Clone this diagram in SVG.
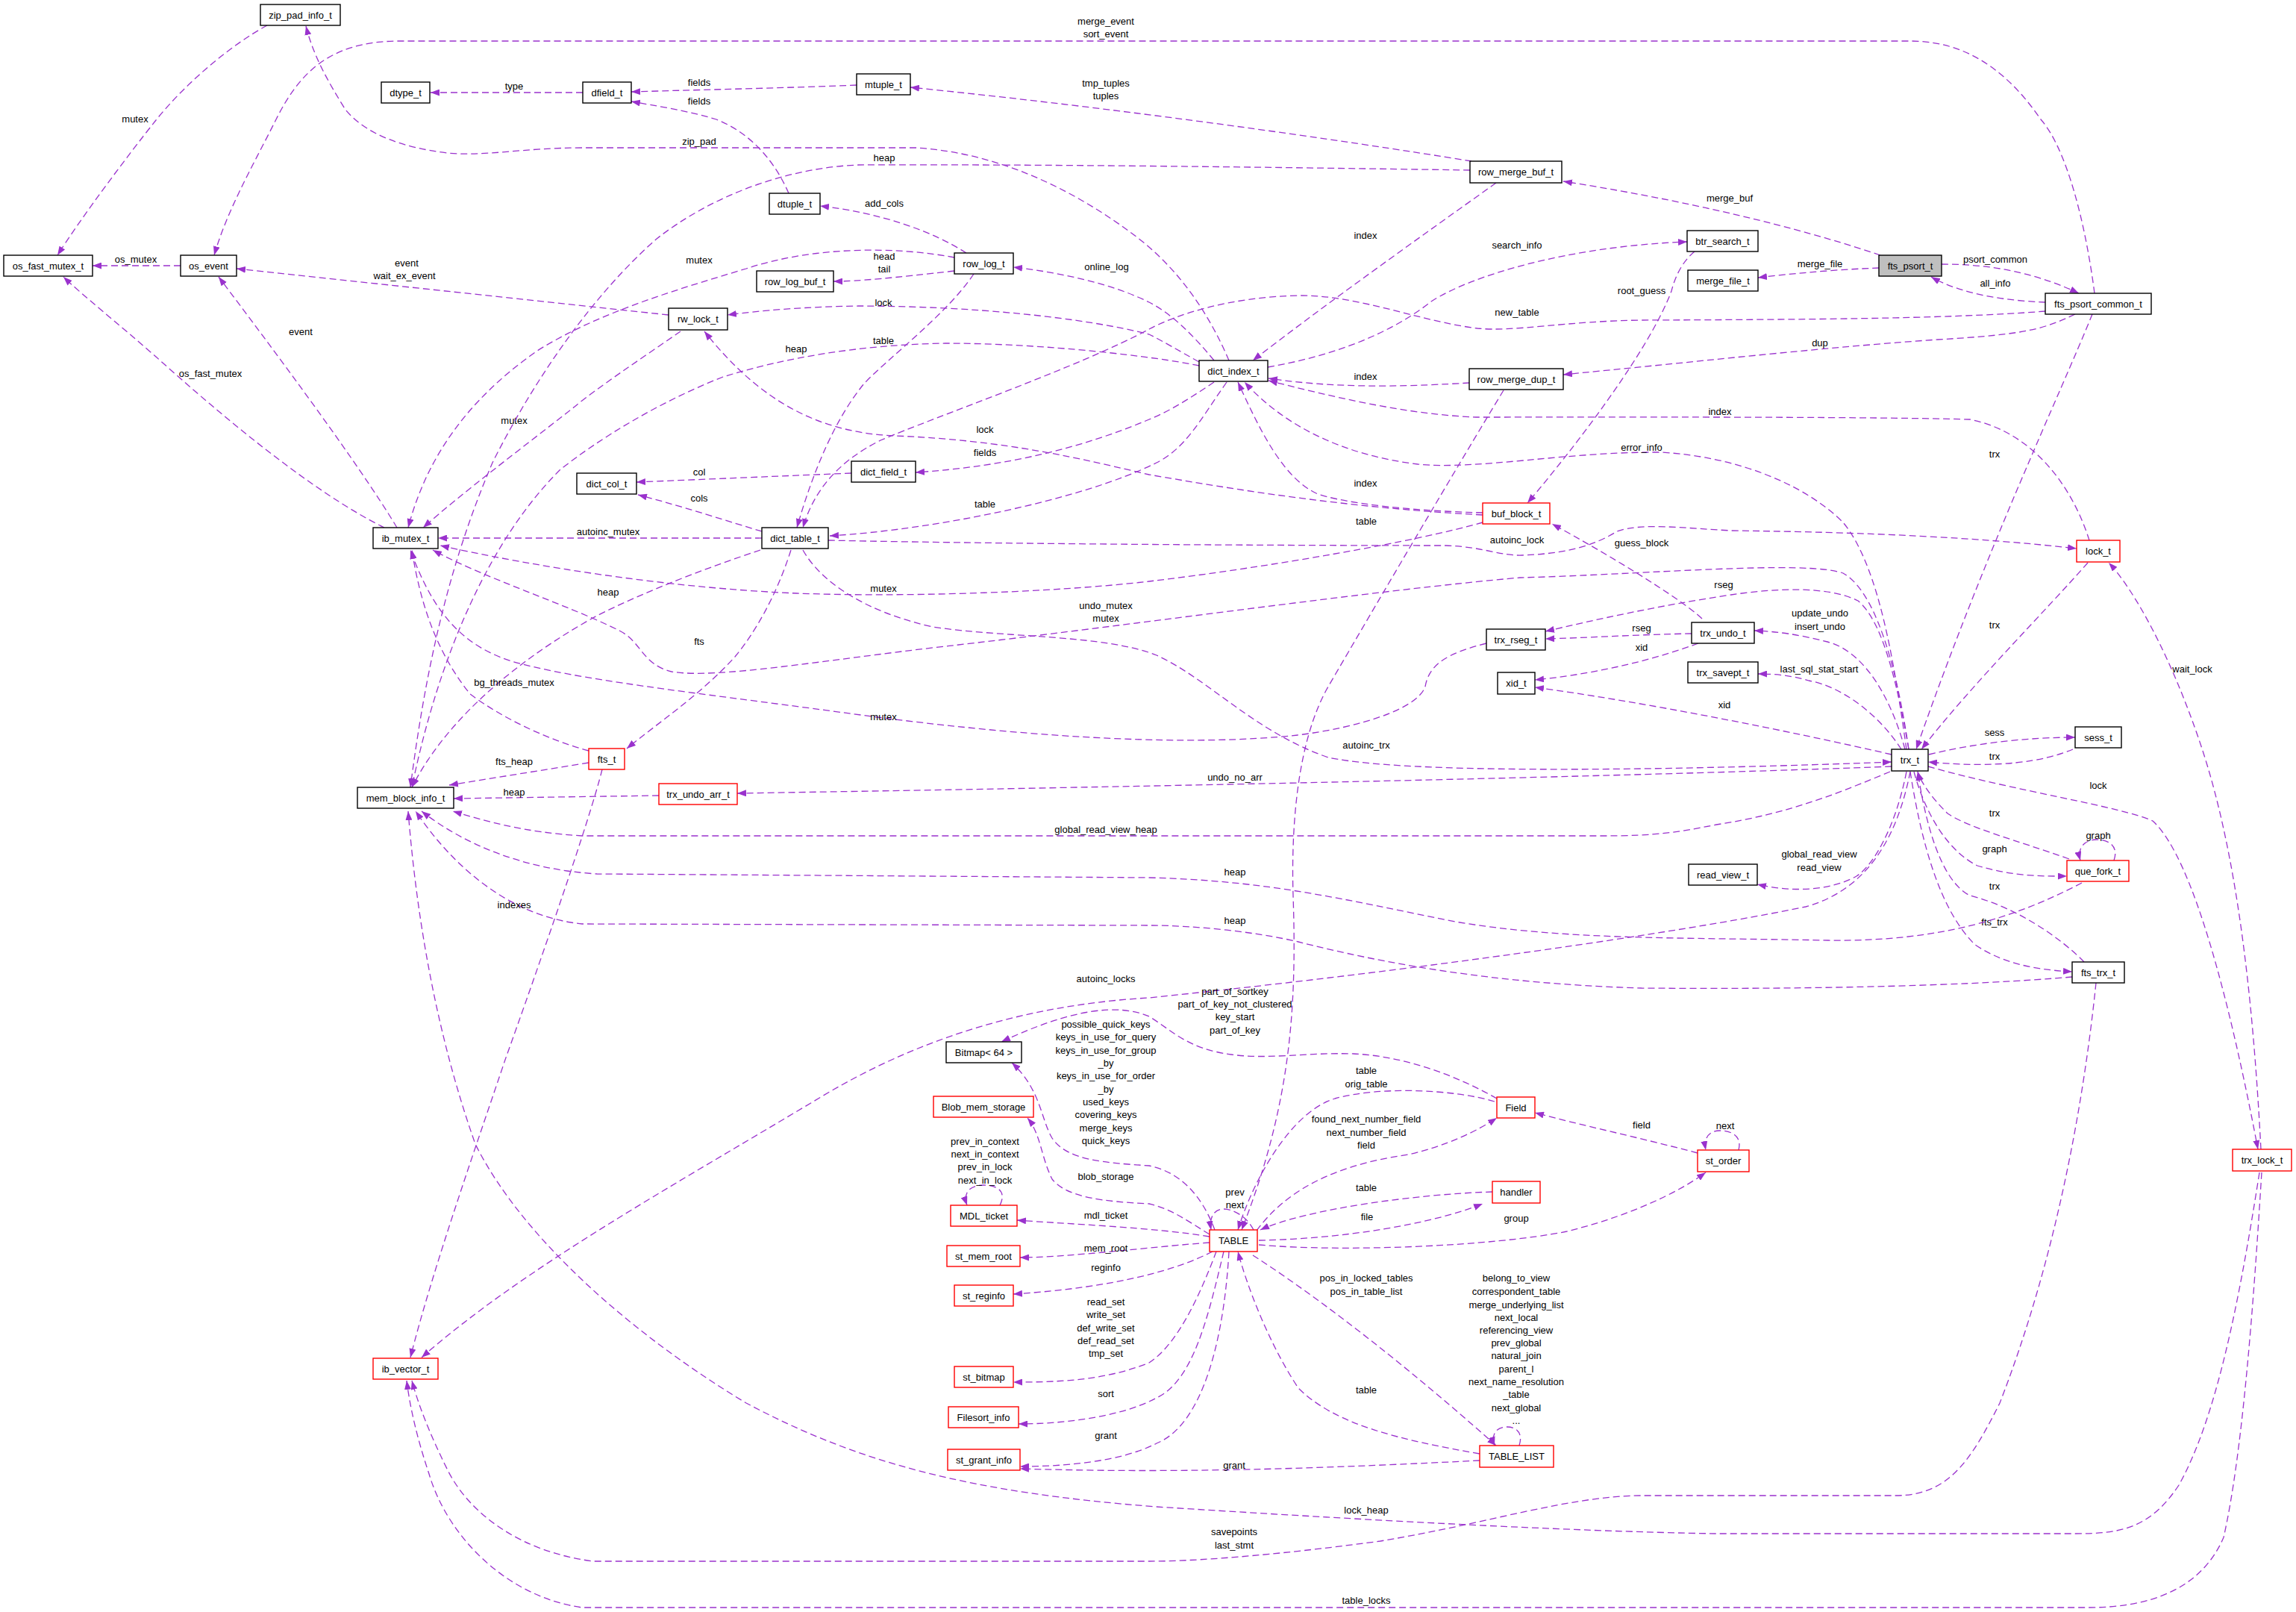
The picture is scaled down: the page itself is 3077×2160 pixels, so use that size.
<svg xmlns="http://www.w3.org/2000/svg" width="3077" height="2160" viewBox="0 0 3077 2160">
<style>
text{font-family:"Liberation Sans",Arial,sans-serif;font-size:13px;fill:#000;text-anchor:middle}
.n rect{fill:#fff;stroke:#000;stroke-width:1.4}
.n.t rect{stroke:#f00}
.n.r rect{fill:#bfbfbf}
.e path{fill:none;stroke:#9a32cd;stroke-width:1.3;stroke-dasharray:9,5;marker-end:url(#a)}
</style>
<defs>
<marker id="a" viewBox="0 0 12 9" refX="12" refY="4.5" markerWidth="12" markerHeight="9" markerUnits="userSpaceOnUse" orient="auto"><path d="M0,0 L12,4.5 L0,9 z" fill="#9a32cd"/></marker>
</defs>
<rect width="3077" height="2160" fill="#fff"/>
<g id="edges" class="e">
<path d="M2520,342 C2440,315 2300,275 2095,243"/><text x="2318" y="270">merge_buf</text>
<path d="M2518,359 Q2440,362 2356,372"/><text x="2439" y="358">merge_file</text>
<path d="M2602,354 C2660,354 2720,362 2786,393"/><text x="2674" y="352">psort_common</text>
<path d="M2741,405 C2690,403 2630,395 2588,371"/><text x="2674" y="384">all_info</text>
<path d="M2807,393 C2795,300 2770,200 2735,160 C2680,80 2620,55 2560,55 L535,55 C440,55 400,100 370,160 C340,220 305,280 287,342"/><text x="1482" y="33">merge_event</text><text x="1482" y="50">sort_event</text>
<path d="M1972,216 C1800,188 1500,145 1220,117"/><text x="1482" y="116">tmp_tuples</text><text x="1482" y="133">tuples</text>
<path d="M1148,114 C1050,118 950,120 846,123"/><text x="937" y="115">fields</text>
<path d="M1057,259 C1040,220 1010,180 960,160 C920,148 880,142 846,136"/><text x="937" y="140">fields</text>
<path d="M781,124 L577,124"/><text x="689" y="120">type</text>
<path d="M1647,483 C1620,420 1580,360 1520,315 C1440,255 1340,205 1228,198 L780,198 C700,198 650,210 600,205 C540,198 490,180 463,147 C440,110 420,75 410,35"/><text x="937" y="194">zip_pad</text>
<path d="M358,34 C310,60 250,110 209,161 C170,210 110,290 77,342"/><text x="181" y="164">mutex</text>
<path d="M242,356 L124,356"/><text x="182" y="352">os_mutex</text>
<path d="M515,707 C420,660 300,560 209,478 C160,435 110,395 85,371"/><text x="282" y="505">os_fast_mutex</text>
<path d="M532,707 C480,620 360,460 293,371"/><text x="403" y="449">event</text>
<path d="M896,422 L317,360"/><text x="545" y="357">event</text><text x="542" y="374">wait_ex_event</text>
<path d="M912,444 C860,480 800,520 770,545 C700,600 620,660 567,707"/><text x="689" y="568">mutex</text>
<path d="M1279,345 C1200,330 1090,330 1000,360 C900,390 800,420 720,470 C620,540 570,620 547,707"/><text x="937" y="353">mutex</text>
<path d="M1970,228 C1700,224 1400,220 1150,221 C1050,225 950,265 880,320 C800,390 720,500 660,620 C600,760 570,900 550,1055"/><text x="1185" y="216">heap</text>
<path d="M2005,245 C1900,320 1780,405 1679,483"/><text x="1830" y="320">index</text>
<path d="M1699,492 C1780,478 1860,450 1918,404 C1970,370 2100,330 2261,324"/><text x="2033" y="333">search_info</text>
<path d="M2271,337 C2255,350 2245,370 2240,390 C2210,470 2110,600 2047,674"/><text x="2200" y="394">root_guess</text>
<path d="M2741,417 C2600,428 2400,428 2200,429 C2100,430 2030,445 1980,440 C1900,430 1820,395 1740,396 C1650,398 1580,420 1540,441 C1450,490 1250,560 1180,590 C1120,620 1090,660 1076,707"/><text x="2033" y="423">new_table</text>
<path d="M1305,367 C1270,420 1190,480 1158,514 C1120,560 1090,630 1068,707"/><text x="1184" y="461">table</text>
<path d="M1644,512 C1610,560 1590,600 1550,620 C1450,670 1250,710 1112,718"/><text x="1320" y="680">table</text>
<path d="M1627,483 C1600,450 1570,420 1540,405 C1490,380 1420,365 1358,358"/><text x="1483" y="362">online_log</text>
<path d="M1295,339 C1250,310 1180,285 1099,276"/><text x="1185" y="277">add_cols</text>
<path d="M1279,363 C1200,372 1150,377 1117,377"/><text x="1185" y="348">head</text><text x="1185" y="365">tail</text>
<path d="M1607,485 C1580,470 1560,458 1540,448 C1450,425 1300,410 1150,410 C1080,411 1020,416 975,422"/><text x="1184" y="410">lock</text>
<path d="M1607,490 C1550,478 1400,460 1267,460 C1150,462 1050,480 969,505 C880,540 800,590 750,630 C660,720 590,870 552,1055"/><text x="1067" y="472">heap</text>
<path d="M1987,690 C1800,680 1650,655 1540,636 C1450,615 1350,590 1200,584 C1100,580 1020,540 944,444"/><text x="1320" y="580">lock</text>
<path d="M1627,512 C1600,530 1570,550 1540,562 C1450,600 1350,625 1227,633"/><text x="1320" y="611">fields</text>
<path d="M1141,634 L853,646"/><text x="937" y="637">col</text>
<path d="M1021,712 C980,700 920,680 855,663"/><text x="937" y="672">cols</text>
<path d="M1021,721 L587,721"/><text x="815" y="717">autoinc_mutex</text>
<path d="M1019,737 C950,760 870,790 800,825 C700,880 600,960 552,1055"/><text x="815" y="798">heap</text>
<path d="M1060,737 C1040,800 1010,850 985,880 C940,930 880,970 840,1003"/><text x="937" y="864">fts</text>
<path d="M1110,724 C1400,730 1800,731 1938,731 C1990,733 2010,745 2040,744 C2090,742 2130,735 2167,712 C2200,700 2260,708 2320,711 C2500,713 2650,720 2783,735"/><text x="2033" y="728">autoinc_lock</text>
<path d="M1987,700 C1900,725 1700,760 1540,779 C1400,795 1200,800 1068,795 C900,788 720,760 590,731"/><text x="1184" y="793">mutex</text>
<path d="M2281,829 C2250,800 2150,740 2080,702"/><text x="2200" y="732">guess_block</text>
<path d="M2800,724 C2780,660 2730,580 2640,562 C2500,558 2100,559 1978,559 C1880,555 1780,530 1700,510"/><text x="2305" y="556">index</text>
<path d="M2555,1004 C2540,900 2520,760 2470,700 C2420,650 2330,612 2226,606 C2100,605 1980,630 1900,622 C1800,610 1720,570 1668,512"/><text x="2200" y="604">error_info</text>
<path d="M2804,421 C2760,530 2660,740 2568,1004"/><text x="2673" y="613">trx</text>
<path d="M2798,754 C2740,820 2640,920 2575,1004"/><text x="2673" y="842">trx</text>
<path d="M3030,1540 C3020,1350 3000,1150 2950,1000 C2910,880 2860,790 2826,754"/><text x="2938" y="901">wait_lock</text>
<path d="M2584,1027 C2700,1060 2840,1080 2885,1100 C2940,1150 2990,1350 3026,1540"/><text x="2812" y="1057">lock</text>
<path d="M2585,1011 C2650,995 2720,988 2781,988"/><text x="2673" y="986">sess</text>
<path d="M2778,1004 C2740,1020 2680,1030 2584,1021"/><text x="2673" y="1018">trx</text>
<path d="M2773,1151 C2700,1125 2640,1110 2610,1090 C2590,1070 2575,1050 2570,1034"/><text x="2673" y="1094">trx</text>
<path d="M2565,1034 C2580,1090 2610,1140 2650,1160 C2700,1175 2740,1174 2770,1174"/><text x="2673" y="1142">graph</text>
<path d="M2833,1153 C2840,1133 2825,1125 2810,1125 C2795,1125 2783,1135 2788,1153"/><text x="2812" y="1124">graph</text>
<path d="M2793,1289 C2760,1255 2700,1215 2640,1200 C2600,1180 2580,1100 2570,1034"/><text x="2673" y="1192">trx</text>
<path d="M2560,1034 C2575,1130 2600,1220 2647,1266 C2690,1295 2740,1300 2777,1302"/><text x="2673" y="1240">fts_trx</text>
<path d="M2790,1183 C2700,1230 2600,1262 2450,1260 C2250,1256 2100,1260 1950,1235 C1800,1205 1700,1180 1540,1176 L800,1171 C700,1165 620,1130 565,1087"/><text x="1655" y="1173">heap</text>
<path d="M2777,1309 C2650,1320 2450,1326 2200,1324 C2000,1318 1850,1290 1740,1262 C1680,1248 1600,1240 1540,1240 L780,1238 C700,1230 620,1180 557,1087"/><text x="1655" y="1238">heap</text>
<path d="M2560,1034 C2545,1110 2510,1190 2420,1215 C2250,1250 1900,1300 1540,1337 C1400,1345 1250,1380 1100,1470 C900,1590 700,1700 565,1819"/><text x="1482" y="1316">autoinc_locks</text>
<path d="M2533,1034 C2470,1060 2400,1090 2300,1105 C2250,1115 2220,1120 2150,1120 L780,1120 C700,1115 650,1100 607,1087"/><text x="1482" y="1116">global_read_view_heap</text>
<path d="M2535,1027 C2300,1036 1800,1050 988,1063"/><text x="1655" y="1046">undo_no_arr</text>
<path d="M1076,737 C1100,780 1160,820 1250,840 C1350,855 1480,850 1550,878 C1620,910 1680,980 1780,1015 C1900,1040 2300,1030 2535,1021"/><text x="1831" y="1003">autoinc_trx</text>
<path d="M2558,1004 C2540,900 2520,830 2490,805 C2450,785 2380,788 2320,797 C2220,812 2140,830 2071,846"/><text x="2310" y="788">rseg</text>
<path d="M2267,849 C2200,850 2120,855 2071,856"/><text x="2200" y="846">rseg</text>
<path d="M2276,862 C2200,890 2120,905 2057,911"/><text x="2200" y="872">xid</text>
<path d="M2535,1011 C2400,980 2200,940 2057,921"/><text x="2311" y="949">xid</text>
<path d="M2553,1004 C2530,920 2490,870 2449,860 C2410,850 2380,846 2351,845"/><text x="2439" y="826">update_undo</text><text x="2439" y="844">insert_undo</text>
<path d="M2548,1004 C2520,960 2470,920 2424,912 C2400,905 2380,903 2356,903"/><text x="2438" y="901">last_sql_stat_start</text>
<path d="M2555,1034 C2540,1110 2510,1160 2488,1174 C2450,1195 2400,1195 2355,1185"/><text x="2438" y="1149">global_read_view</text><text x="2438" y="1167">read_view</text>
<path d="M2558,1004 C2540,880 2510,790 2470,768 C2420,750 2200,770 2037,774 C1850,790 1500,840 1267,866 C1100,885 960,910 900,900 C860,890 860,860 830,845 C760,810 650,775 580,737"/><text x="1482" y="816">undo_mutex</text><text x="1482" y="833">mutex</text>
<path d="M1992,862 C1940,875 1915,890 1910,920 C1900,950 1820,975 1739,985 C1600,1000 1400,990 1168,960 C950,930 800,915 700,890 C620,870 580,820 550,737"/><text x="1184" y="965">mutex</text>
<path d="M789,1006 C730,990 670,960 630,930 C590,880 565,820 552,737"/><text x="689" y="919">bg_threads_mutex</text>
<path d="M789,1022 L602,1052"/><text x="689" y="1025">fts_heap</text>
<path d="M883,1066 L608,1070"/><text x="689" y="1066">heap</text>
<path d="M807,1031 C790,1100 720,1300 677,1420 C640,1530 580,1700 550,1819"/><text x="689" y="1217">indexes</text>
<path d="M3028,1571 C3000,1750 2970,1900 2920,1990 C2880,2050 2840,2055 2780,2055 L2300,2055 C2100,2052 1800,2035 1550,2019 C1300,2000 1150,1960 1000,1880 C850,1790 700,1660 637,1533 C590,1400 560,1250 547,1087"/><text x="1831" y="2028">lock_heap</text>
<path d="M2809,1317 C2790,1500 2750,1700 2680,1880 C2640,1960 2610,2004 2540,2004 L2200,2004 C2100,2005 2000,2040 1850,2065 C1700,2085 1600,2092 1540,2092 L795,2092 C700,2080 630,2030 600,1970 C575,1920 560,1880 552,1850"/><text x="1654" y="2057">savepoints</text><text x="1654" y="2075">last_stmt</text>
<path d="M3031,1571 C3020,1750 3005,1950 2980,2060 C2950,2130 2880,2154 2800,2154 L780,2154 C680,2140 600,2060 575,1975 C560,1930 550,1890 545,1850"/><text x="1831" y="2149">table_locks</text>
<path d="M1628,1648 C1610,1600 1580,1570 1540,1562 C1480,1558 1430,1555 1410,1525 C1395,1500 1395,1460 1356,1424"/><text x="1482" y="1377">possible_quick_keys</text><text x="1482" y="1394">keys_in_use_for_query</text><text x="1482" y="1412">keys_in_use_for_group</text><text x="1482" y="1429">_by</text><text x="1482" y="1446">keys_in_use_for_order</text><text x="1482" y="1464">_by</text><text x="1482" y="1481">used_keys</text><text x="1482" y="1498">covering_keys</text><text x="1482" y="1516">merge_keys</text><text x="1482" y="1533">quick_keys</text>
<path d="M2006,1472 C1950,1440 1880,1415 1814,1412 C1750,1410 1700,1420 1650,1413 C1590,1405 1570,1380 1540,1362 C1500,1345 1440,1350 1342,1396"/><text x="1655" y="1333">part_of_sortkey</text><text x="1655" y="1350">part_of_key_not_clustered</text><text x="1655" y="1367">key_start</text><text x="1655" y="1385">part_of_key</text>
<path d="M1621,1654 C1590,1635 1570,1620 1540,1613 C1480,1610 1430,1605 1410,1580 C1395,1550 1395,1520 1377,1498"/><text x="1482" y="1581">blob_storage</text>
<path d="M1340,1615 C1350,1595 1335,1588 1318,1588 C1300,1588 1290,1598 1296,1615"/><text x="1320" y="1534">prev_in_context</text><text x="1320" y="1551">next_in_context</text><text x="1320" y="1568">prev_in_lock</text><text x="1320" y="1586">next_in_lock</text>
<path d="M1621,1657 C1550,1645 1430,1640 1363,1635"/><text x="1482" y="1633">mdl_ticket</text>
<path d="M1621,1665 C1550,1670 1430,1685 1367,1685"/><text x="1482" y="1677">mem_root</text>
<path d="M1625,1677 C1580,1700 1500,1725 1358,1734"/><text x="1482" y="1703">reginfo</text>
<path d="M1630,1677 C1610,1730 1580,1800 1540,1826 C1480,1850 1420,1852 1358,1852"/><text x="1482" y="1749">read_set</text><text x="1482" y="1766">write_set</text><text x="1482" y="1784">def_write_set</text><text x="1482" y="1801">def_read_set</text><text x="1482" y="1818">tmp_set</text>
<path d="M1640,1677 C1620,1760 1600,1850 1550,1873 C1500,1900 1420,1908 1365,1908"/><text x="1482" y="1872">sort</text>
<path d="M1647,1677 C1640,1800 1610,1910 1550,1934 C1500,1960 1420,1965 1367,1965"/><text x="1482" y="1928">grant</text>
<path d="M1983,1957 C1800,1966 1600,1975 1367,1968"/><text x="1654" y="1968">grant</text>
<path d="M2003,1476 C1950,1460 1850,1455 1789,1472 C1730,1490 1680,1580 1659,1648"/><text x="1831" y="1439">table</text><text x="1831" y="1457">orig_table</text>
<path d="M1684,1649 C1720,1600 1780,1562 1888,1547 C1940,1535 1980,1515 2006,1498"/><text x="1831" y="1504">found_next_number_field</text><text x="1831" y="1522">next_number_field</text><text x="1831" y="1539">field</text>
<path d="M2000,1597 C1900,1600 1750,1620 1689,1648"/><text x="1831" y="1596">table</text>
<path d="M1687,1662 C1800,1660 1920,1640 1987,1613"/><text x="1832" y="1635">file</text>
<path d="M1687,1668 C1800,1678 2000,1670 2100,1650 C2200,1625 2260,1590 2286,1571"/><text x="2032" y="1637">group</text>
<path d="M2275,1545 C2200,1525 2120,1508 2057,1491"/><text x="2200" y="1512">field</text>
<path d="M2330,1541 C2335,1522 2320,1515 2305,1515 C2290,1515 2283,1525 2286,1541"/><text x="2312" y="1513">next</text>
<path d="M1680,1648 C1670,1628 1650,1620 1640,1620 C1628,1620 1620,1630 1623,1648"/><text x="1655" y="1602">prev</text><text x="1655" y="1619">next</text>
<path d="M1983,1948 C1880,1930 1790,1910 1740,1860 C1700,1800 1670,1720 1659,1677"/><text x="1831" y="1867">table</text>
<path d="M1679,1682 C1800,1760 1930,1870 2005,1937"/><text x="1831" y="1717">pos_in_locked_tables</text><text x="1831" y="1735">pos_in_table_list</text>
<path d="M2036,1937 C2042,1918 2030,1912 2020,1912 C2005,1912 1998,1922 2003,1937"/><text x="2032" y="1717">belong_to_view</text><text x="2032" y="1735">correspondent_table</text><text x="2032" y="1753">merge_underlying_list</text><text x="2032" y="1770">next_local</text><text x="2032" y="1787">referencing_view</text><text x="2032" y="1804">prev_global</text><text x="2032" y="1821">natural_join</text><text x="2032" y="1839">parent_l</text><text x="2032" y="1856">next_name_resolution</text><text x="2032" y="1873">_table</text><text x="2032" y="1891">next_global</text><text x="2032" y="1908">...</text>
<path d="M2015,523 C1950,630 1850,800 1780,920 C1740,990 1730,1100 1733,1200 C1738,1350 1730,1480 1664,1648"/><text x="1831" y="703">table</text>
<path d="M1987,687 C1900,685 1800,675 1764,661 C1720,640 1690,580 1659,512"/><text x="1830" y="652">index</text>
<path d="M1969,513 C1900,517 1800,522 1700,507"/><text x="1830" y="509">index</text>
<path d="M2781,421 C2740,440 2720,448 2597,455 C2450,465 2300,482 2095,502"/><text x="2439" y="464">dup</text>
</g>
<g id="nodes">
<g id="n_zip_pad_info_t" class="n"><rect x="349" y="6" width="107" height="28"/><text x="402.5" y="24.5">zip_pad_info_t</text></g>
<g id="n_dtype_t" class="n"><rect x="511" y="110" width="65" height="28"/><text x="543.5" y="128.5">dtype_t</text></g>
<g id="n_dfield_t" class="n"><rect x="781" y="110" width="65" height="28"/><text x="813.5" y="128.5">dfield_t</text></g>
<g id="n_mtuple_t" class="n"><rect x="1148" y="99" width="72" height="28"/><text x="1184" y="117.5">mtuple_t</text></g>
<g id="n_os_fast_mutex_t" class="n"><rect x="5" y="342" width="119" height="28"/><text x="64.5" y="360.5">os_fast_mutex_t</text></g>
<g id="n_os_event" class="n"><rect x="242" y="342" width="75" height="28"/><text x="279.5" y="360.5">os_event</text></g>
<g id="n_ib_mutex_t" class="n"><rect x="500" y="707" width="87" height="28"/><text x="543.5" y="725.5">ib_mutex_t</text></g>
<g id="n_dtuple_t" class="n"><rect x="1031" y="259" width="68" height="28"/><text x="1065" y="277.5">dtuple_t</text></g>
<g id="n_row_log_t" class="n"><rect x="1279" y="339" width="79" height="28"/><text x="1318.5" y="357.5">row_log_t</text></g>
<g id="n_row_log_buf_t" class="n"><rect x="1014" y="363" width="103" height="28"/><text x="1065.5" y="381.5">row_log_buf_t</text></g>
<g id="n_rw_lock_t" class="n"><rect x="896" y="413" width="79" height="29"/><text x="935.5" y="432">rw_lock_t</text></g>
<g id="n_dict_field_t" class="n"><rect x="1141" y="618" width="86" height="28"/><text x="1184" y="636.5">dict_field_t</text></g>
<g id="n_dict_col_t" class="n"><rect x="773" y="634" width="80" height="28"/><text x="813" y="652.5">dict_col_t</text></g>
<g id="n_dict_table_t" class="n"><rect x="1021" y="707" width="89" height="28"/><text x="1065.5" y="725.5">dict_table_t</text></g>
<g id="n_row_merge_buf_t" class="n"><rect x="1970" y="216" width="123" height="29"/><text x="2031.5" y="235">row_merge_buf_t</text></g>
<g id="n_btr_search_t" class="n"><rect x="2261" y="309" width="95" height="28"/><text x="2308.5" y="327.5">btr_search_t</text></g>
<g id="n_merge_file_t" class="n"><rect x="2262" y="362" width="94" height="28"/><text x="2309" y="380.5">merge_file_t</text></g>
<g id="n_dict_index_t" class="n"><rect x="1607" y="483" width="92" height="28"/><text x="1653" y="501.5">dict_index_t</text></g>
<g id="n_row_merge_dup_t" class="n"><rect x="1969" y="494" width="126" height="28"/><text x="2032" y="512.5">row_merge_dup_t</text></g>
<g id="n_buf_block_t" class="n t"><rect x="1987" y="674" width="90" height="28"/><text x="2032" y="692.5">buf_block_t</text></g>
<g id="n_fts_psort_t" class="n r"><rect x="2518" y="342" width="84" height="28"/><text x="2560" y="360.5">fts_psort_t</text></g>
<g id="n_fts_psort_common_t" class="n"><rect x="2741" y="393" width="142" height="28"/><text x="2812" y="411.5">fts_psort_common_t</text></g>
<g id="n_fts_t" class="n t"><rect x="789" y="1003" width="48" height="28"/><text x="813" y="1021.5">fts_t</text></g>
<g id="n_trx_undo_arr_t" class="n t"><rect x="883" y="1050" width="105" height="28"/><text x="935.5" y="1068.5">trx_undo_arr_t</text></g>
<g id="n_bitmap" class="n"><rect x="1268" y="1396" width="101" height="28"/><text x="1318.5" y="1414.5">Bitmap&lt; 64 &gt;</text></g>
<g id="n_mem_block_info_t" class="n"><rect x="479" y="1055" width="129" height="28"/><text x="543.5" y="1073.5">mem_block_info_t</text></g>
<g id="n_trx_rseg_t" class="n"><rect x="1992" y="843" width="79" height="28"/><text x="2031.5" y="861.5">trx_rseg_t</text></g>
<g id="n_xid_t" class="n"><rect x="2007" y="901" width="50" height="29"/><text x="2032" y="920">xid_t</text></g>
<g id="n_trx_undo_t" class="n"><rect x="2267" y="834" width="84" height="28"/><text x="2309" y="852.5">trx_undo_t</text></g>
<g id="n_trx_savept_t" class="n"><rect x="2262" y="887" width="94" height="28"/><text x="2309" y="905.5">trx_savept_t</text></g>
<g id="n_read_view_t" class="n"><rect x="2263" y="1158" width="92" height="28"/><text x="2309" y="1176.5">read_view_t</text></g>
<g id="n_lock_t" class="n t"><rect x="2783" y="724" width="58" height="29"/><text x="2812" y="743">lock_t</text></g>
<g id="n_sess_t" class="n"><rect x="2781" y="974" width="62" height="28"/><text x="2812" y="992.5">sess_t</text></g>
<g id="n_trx_t" class="n"><rect x="2535" y="1004" width="49" height="29"/><text x="2559.5" y="1023">trx_t</text></g>
<g id="n_que_fork_t" class="n t"><rect x="2770" y="1153" width="83" height="28"/><text x="2811.5" y="1171.5">que_fork_t</text></g>
<g id="n_fts_trx_t" class="n"><rect x="2777" y="1289" width="70" height="28"/><text x="2812" y="1307.5">fts_trx_t</text></g>
<g id="n_ib_vector_t" class="n t"><rect x="500" y="1820" width="87" height="28"/><text x="543.5" y="1838.5">ib_vector_t</text></g>
<g id="n_Blob_mem_storage" class="n t"><rect x="1251" y="1469" width="134" height="28"/><text x="1318" y="1487.5">Blob_mem_storage</text></g>
<g id="n_MDL_ticket" class="n t"><rect x="1274" y="1615" width="89" height="28"/><text x="1318.5" y="1633.5">MDL_ticket</text></g>
<g id="n_st_mem_root" class="n t"><rect x="1269" y="1669" width="98" height="28"/><text x="1318" y="1687.5">st_mem_root</text></g>
<g id="n_st_reginfo" class="n t"><rect x="1279" y="1722" width="79" height="28"/><text x="1318.5" y="1740.5">st_reginfo</text></g>
<g id="n_st_bitmap" class="n t"><rect x="1279" y="1831" width="79" height="28"/><text x="1318.5" y="1849.5">st_bitmap</text></g>
<g id="n_Filesort_info" class="n t"><rect x="1271" y="1885" width="94" height="28"/><text x="1318" y="1903.5">Filesort_info</text></g>
<g id="n_st_grant_info" class="n t"><rect x="1270" y="1942" width="97" height="28"/><text x="1318.5" y="1960.5">st_grant_info</text></g>
<g id="n_Field" class="n t"><rect x="2006" y="1470" width="51" height="28"/><text x="2031.5" y="1488.5">Field</text></g>
<g id="n_handler" class="n t"><rect x="2000" y="1583" width="64" height="29"/><text x="2032" y="1602">handler</text></g>
<g id="n_TABLE" class="n t"><rect x="1621" y="1648" width="64" height="29"/><text x="1653" y="1667">TABLE</text></g>
<g id="n_TABLE_LIST" class="n t"><rect x="1983" y="1937" width="99" height="29"/><text x="2032.5" y="1956">TABLE_LIST</text></g>
<g id="n_st_order" class="n t"><rect x="2275" y="1541" width="69" height="29"/><text x="2309.5" y="1560">st_order</text></g>
<g id="n_trx_lock_t" class="n t"><rect x="2992" y="1540" width="79" height="29"/><text x="3031.5" y="1559">trx_lock_t</text></g>
</g>
</svg>
